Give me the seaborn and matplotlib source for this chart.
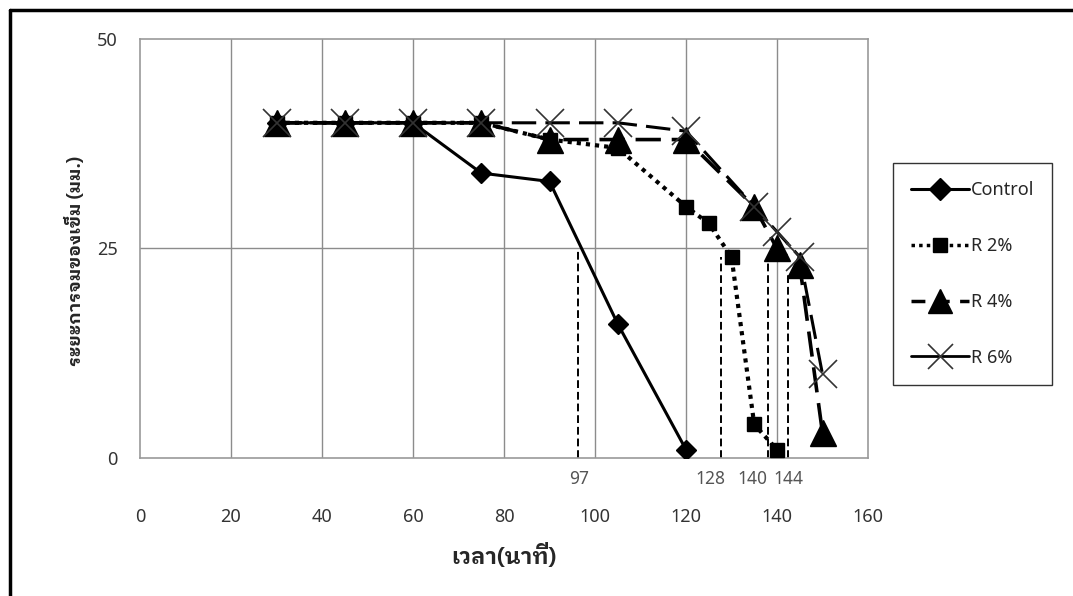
import matplotlib
matplotlib.use("Agg")
import matplotlib.pyplot as plt
from matplotlib.lines import Line2D
import seaborn as sns

# setting time (min) and needle penetration (mm) per mix
control_t = [30, 45, 60, 75, 90, 105, 120]
control_y = [40, 40, 40, 34, 33, 16, 1]
r2_t = [30, 45, 60, 75, 90, 105, 120, 125, 130, 135, 140]
r2_y = [40, 40, 40, 40, 38, 37, 30, 28, 24, 4, 1]
r4_t = [30, 45, 60, 75, 90, 105, 120, 135, 140, 145, 150]
r4_y = [40, 40, 40, 40, 38, 38, 38, 30, 25, 23, 3]
r6_t = [30, 45, 60, 75, 90, 105, 120, 135, 140, 145, 150]
r6_y = [40, 40, 40, 40, 40, 40, 39, 30, 27, 24, 10]

# setting-time marks at 25 mm
cut_x = [96.3, 127.8, 138, 142.5]
cut_top = [25, 24, 24, 22]
cut_labels = ["97", "128", "140", "144"]
cut_label_x = [96.5, 125.4, 134.6, 142.4]

labels = ["Control", "R 2%", "R 4%", "R 6%"]
x_ticks = [0, 20, 40, 60, 80, 100, 120, 140, 160]
y_ticks = [0, 25, 50]

sns.set_style("white")
plt.rcParams["font.family"] = ["Noto Sans", "DejaVu Sans"]
thai = ["IBM Plex Sans Thai Looped", "Loma", "Noto Sans Thai", "DejaVu Sans"]

fig = plt.figure(figsize=(10.73, 5.96), dpi=100)
ax = fig.add_axes([140 / 1073, 1 - 458 / 596, 728 / 1073, 419 / 596])

grey = "#8c8c8c"
for gx in x_ticks[1:-1]:
    ax.axvline(gx, color=grey, lw=1, zorder=0)
ax.axhline(25, color=grey, lw=1, zorder=0)

for x, top in zip(cut_x, cut_top):
    ax.plot([x, x], [0, top], color="black", lw=1.4, linestyle=(0, (4, 2)), zorder=1)

sns.lineplot(x=control_t, y=control_y, ax=ax, color="black", lw=2.2,
             marker="D", markersize=10.5, markerfacecolor="black",
             markeredgecolor="black", markeredgewidth=1, zorder=3)
sns.lineplot(x=r2_t, y=r2_y, ax=ax, color="black", lw=3, linestyle=(0, (1, 1.2)),
             marker="s", markersize=10, markerfacecolor="black",
             markeredgecolor="black", markeredgewidth=1, zorder=4)
sns.lineplot(x=r4_t, y=r4_y, ax=ax, color="black", lw=2.6, linestyle=(0, (7, 3)),
             marker="^", markersize=19, markerfacecolor="black",
             markeredgecolor="black", markeredgewidth=1, zorder=5)
sns.lineplot(x=r6_t, y=r6_y, ax=ax, color="black", lw=2.2, linestyle=(0, (8, 3)),
             marker="x", markersize=20, markeredgecolor="#333333",
             markeredgewidth=1.2, zorder=6)

for lx, lab in zip(cut_label_x, cut_labels):
    ax.text(lx, -2.5, lab, ha="center", va="center", fontsize=12.5,
            color="#555555", clip_on=False)

ax.set_xlim(0, 160)
ax.set_ylim(0, 50)
ax.set_xticks(x_ticks)
ax.set_yticks(y_ticks)
ax.tick_params(axis="both", length=0, labelsize=13, colors="#333333")
ax.tick_params(axis="x", pad=36)
ax.tick_params(axis="y", pad=16)
for sp in ax.spines.values():
    sp.set_color("#999999")
    sp.set_linewidth(1.2)

ax.set_xlabel("เวลา(นาที)", family=thai, fontsize=16, fontweight="bold", labelpad=12)
ax.set_ylabel("ระยะการจมของเข็ม (มม.)", family=thai, fontsize=13, fontweight="bold")
ax.yaxis.set_label_coords(-0.076, 0.47)

handles = [
    Line2D([], [], color="black", lw=2.2, marker="D", markersize=11, markerfacecolor="black"),
    Line2D([], [], color="black", lw=2.5, linestyle=(0, (1, 1.2)), marker="s", markersize=10, markerfacecolor="black"),
    Line2D([], [], color="black", lw=2.5, linestyle=(0, (4, 3)), marker="^", markersize=17, markerfacecolor="black"),
    Line2D([], [], color="black", lw=2, marker="x", markersize=18, markeredgecolor="#333333", markeredgewidth=1.2),
]
leg = fig.legend(handles, labels, loc="upper left", bbox_to_anchor=(893 / 1073, 1 - 163 / 596),
                 frameon=True, fancybox=False, fontsize=13, labelspacing=2.1, handlelength=3.2,
                 handletextpad=0.1, borderpad=1.0, borderaxespad=0)
leg.get_frame().set_edgecolor("black")
leg.get_frame().set_linewidth(1)

# outer chart border
fig.add_artist(Line2D([10 / 1073, 10 / 1073], [0, 1 - 10 / 596], color="black", lw=2.5, transform=fig.transFigure))
fig.add_artist(Line2D([10 / 1073, 1], [1 - 10 / 596, 1 - 10 / 596], color="black", lw=2.5, transform=fig.transFigure))

fig.savefig("out.png", dpi=100)
